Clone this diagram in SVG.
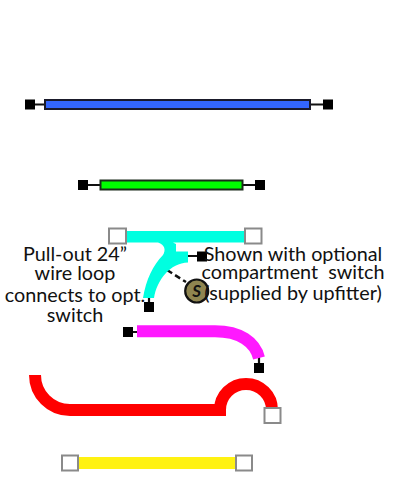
<svg xmlns="http://www.w3.org/2000/svg" width="394" height="491" viewBox="0 0 394 491">
<style>
.t{font-family:"Lato","Liberation Sans",sans-serif;font-size:19.800px;fill:#111;text-anchor:middle}
.b{fill:#000}
.g{fill:#fff;stroke:#8a8a8a;stroke-width:2;}
.c{stroke:#111;stroke-width:2.200;fill:none}
.w{fill:none;stroke-width:12}
</style>
<g id="connectors">
<path class="c" d="M30,104.500H45M310,104.500H328"/>
<path class="c" d="M83,185H100M243,185H260"/>
<path class="c" d="M188,256H202M149,296V307"/>
<path d="M159,265L186,282" fill="none" stroke="#111" stroke-width="2.500" stroke-dasharray="6,3.500"/>
<path class="c" d="M128,332H138M259,356V368"/>
</g>
<g id="wire-blue"><rect x="45" y="100" width="265" height="9" fill="#3366ff" stroke="#1a1a2a" stroke-width="2"/></g>
<g id="term-blue-l"><rect class="b" x="25" y="99.500" width="10" height="10"/></g>
<g id="term-blue-r"><rect class="b" x="323" y="99.500" width="10" height="10"/></g>
<g id="wire-green"><rect x="100.500" y="180.500" width="142" height="9" fill="#00ff00" stroke="#1a2a1a" stroke-width="2"/></g>
<g id="term-green-l"><rect class="b" x="78" y="180" width="10" height="10"/></g>
<g id="term-green-r"><rect class="b" x="255" y="180" width="10" height="10"/></g>
<g id="wire-cyan">
<path fill="#00ffe0" d="M125,231H245V242.500H173L176,244V251.500H188V262.500C170,263 157,280 154,298H143C146,280 153,265 163,255C166,250 165,245 158,242.500H125Z"/>
</g>
<g id="term-cyan-l"><rect class="g" x="109" y="228.500" width="17" height="15"/></g>
<g id="term-cyan-r"><rect class="g" x="245" y="228.500" width="16.500" height="15"/></g>
<g id="term-cyan-a"><rect class="b" x="197" y="251.500" width="10" height="10"/></g>
<g id="term-cyan-b"><rect class="b" x="144" y="302" width="10" height="10"/></g>
<g id="switch">
<circle cx="196.700" cy="291" r="11.500" fill="#8f8550" stroke="#111" stroke-width="2.200"/>
<text x="196.700" y="297" font-family="Lato,'Liberation Sans',sans-serif" font-size="17" font-weight="700" font-style="italic" fill="#111" text-anchor="middle">S</text>
</g>
<g id="label-left">
<text class="t" x="75" y="261">Pull-out 24”</text>
<text class="t" x="75" y="280">wire loop</text>
<text class="t" x="75" y="302">connects to opt.</text>
<text class="t" x="75" y="322">switch</text>
</g>
<g id="label-right">
<text class="t" x="293" y="261">Shown with optional</text>
<text class="t" x="293" y="279" xml:space="preserve">compartment  switch</text>
<text class="t" x="293" y="300">(supplied by upfitter)</text>
</g>
<g id="wire-magenta"><path class="w" stroke="#ff19ff" d="M137,331.300H215C240,331.300 255,342 259,358"/></g>
<g id="term-mag-l"><rect class="b" x="123" y="327" width="10" height="10"/></g>
<g id="term-mag-b"><rect class="b" x="254" y="363" width="10" height="10"/></g>
<g id="wire-red"><path class="w" stroke="#ff0000" d="M35,375A35,35 0 0 0 70,410H226M220,410A26,26 0 0 1 272,410"/></g>
<g id="term-red"><rect class="g" x="264.500" y="408" width="16" height="15"/></g>
<g id="wire-yellow"><rect x="78" y="457" width="158" height="12" fill="#fff212"/></g>
<g id="term-yel-l"><rect class="g" x="62" y="455.500" width="16" height="15"/></g>
<g id="term-yel-r"><rect class="g" x="236" y="455.500" width="16" height="15"/></g>
</svg>
